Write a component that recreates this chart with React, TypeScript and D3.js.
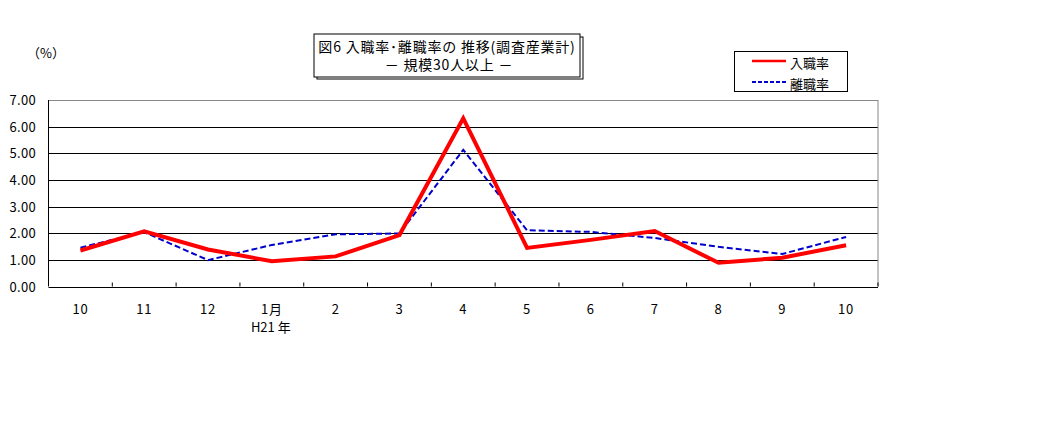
import React from 'react';
import * as d3 from 'd3';

const months = ['10', '11', '12', '1月', '2', '3', '4', '5', '6', '7', '8', '9', '10'];
const hireRate = [1.35, 2.07, 1.39, 0.95, 1.13, 1.93, 6.31, 1.45, 1.75, 2.08, 0.89, 1.08, 1.55];
const sepRate = [1.46, 2.04, 0.99, 1.56, 1.96, 1.99, 5.13, 2.11, 2.05, 1.82, 1.49, 1.22, 1.86];
const yTicks = [0, 1, 2, 3, 4, 5, 6, 7];

const FONT = '"Noto Sans CJK JP", "Noto Sans", sans-serif';

const margin = { top: 100, left: 48.5, right: 878, bottom: 286.5 };

const App: React.FC = () => {
  const x = d3.scaleBand<number>()
    .domain(d3.range(months.length))
    .range([margin.left, margin.right]);

  const y = d3.scaleLinear().domain([0, 7]).range([margin.bottom, margin.top]);

  const line = d3.line<number>()
    .x((_, i) => (x(i) as number) + x.bandwidth() / 2)
    .y(d => y(d));

  return (
    <svg width={1040} height={423} style={{ position: 'absolute', left: 0, top: 0, background: '#fff' }}
      fontFamily={FONT}>
      {/* title box */}
      <rect x={317} y={37} width={266} height={42} fill="none" stroke="#000" />
      <rect x={314} y={34} width={266} height={43} fill="#fff" stroke="#000" />
      <text x={447} y={52} fontSize={14} letterSpacing={0.8} textAnchor="middle">図6  入職率･離職率の 推移(調査産業計)</text>
      <text x={449} y={70} fontSize={14} letterSpacing={0.8} textAnchor="middle">－ 規模30人以上 －</text>

      <text x={27} y={58} fontSize={13}>（%）</text>

      {/* grid */}
      {yTicks.map(t => (
        <g key={t}>
          <line x1={margin.left} x2={margin.right} y1={Math.round(y(t)) + 0.5} y2={Math.round(y(t)) + 0.5}
            stroke={t === 7 ? '#888' : '#000'} />
          <text x={36} y={y(t) + 5} fontSize={13} letterSpacing={0.3} textAnchor="end">{t.toFixed(2)}</text>
        </g>
      ))}
      <line x1={margin.right} x2={margin.right} y1={margin.top} y2={margin.bottom} stroke="#888" />
      <line x1={margin.left} x2={margin.left} y1={margin.top} y2={margin.bottom} stroke="#000" />

      {/* x axis */}
      {months.map((m, i) => {
        const bx = x(i) as number;
        return (
          <g key={i}>
            {i > 0 && <line x1={bx} x2={bx} y1={margin.bottom - 4} y2={margin.bottom} stroke="#000" />}
            <text x={bx + x.bandwidth() / 2} y={314} fontSize={13} letterSpacing={0.8} textAnchor="middle">{m}</text>
          </g>
        );
      })}
      <line x1={margin.right} x2={margin.right} y1={margin.bottom - 4} y2={margin.bottom} stroke="#000" />
      <text x={(x(3) as number) + x.bandwidth() / 2 - 1} y={332} fontSize={13} textAnchor="middle">H21 年</text>

      {/* series */}
      <path d={line(sepRate) || ''} fill="none" stroke="#0000cc" strokeWidth={2} strokeDasharray="6,3" />
      <path d={line(hireRate) || ''} fill="none" stroke="#ff0000" strokeWidth={4} strokeLinejoin="miter" />

      {/* legend */}
      <rect x={734.5} y={51.5} width={113} height={40} fill="#fff" stroke="#000" />
      <line x1={752} x2={786} y1={61} y2={61} stroke="#ff0000" strokeWidth={2.5} />
      <text x={790} y={68} fontSize={13}>入職率</text>
      <line x1={752} x2={786} y1={82} y2={82} stroke="#0000cc" strokeWidth={2} strokeDasharray="4,2" />
      <text x={790} y={89} fontSize={13}>離職率</text>
    </svg>
  );
};

export default App;
